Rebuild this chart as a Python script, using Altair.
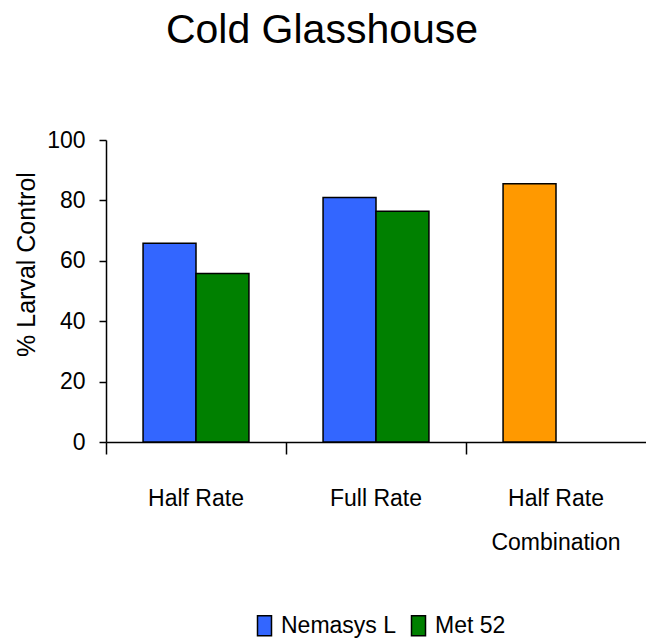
import altair as alt
import pandas as pd

# Treatment groups, series and % larval control
groups = ["Half Rate", "Half Rate", "Full Rate", "Full Rate", "Half Rate\nCombination"]
series = ["Nemasys L", "Met 52", "Nemasys L", "Met 52", "Combination"]
values = [65.8, 55.8, 81.0, 76.4, 85.5]

category_order = ["Half Rate", "Full Rate", "Half Rate\nCombination"]
legend_series = ["Nemasys L", "Met 52"]
series_domain = ["Nemasys L", "Met 52", "Combination"]
series_colors = ["#3366FF", "#008000", "#FF9900"]
y_ticks = [0, 20, 40, 60, 80, 100]

df = pd.DataFrame({"group": groups, "series": series, "value": values})
# the combination bar sits in the first slot of its group
df["slot"] = df["series"].where(df["series"] != "Combination", "Nemasys L")

FONT = "Liberation Sans, Arial, sans-serif"
LABEL_SIZE = 23

bars = alt.Chart(df).mark_bar(stroke="black", strokeWidth=1.5).encode(
    x=alt.X(
        "group:N",
        sort=category_order,
        scale=alt.Scale(domain=category_order, paddingInner=0, paddingOuter=0),
        axis=alt.Axis(
            title=None,
            labelAngle=0,
            labelFont=FONT,
            labelFontSize=LABEL_SIZE,
            labelColor="black",
            labelPadding=33,
            labelLineHeight=44,
            labelBaseline="top",
            labelExpr="split(datum.label, '\\n')",
            tickSize=12,
            tickColor="black",
            tickWidth=1.5,
            bandPosition=0,
            tickExtra=False,
            domainColor="black",
            domainWidth=1.5,
        ),
    ),
    xOffset=alt.XOffset(
        "slot:N",
        scale=alt.Scale(domain=legend_series, paddingInner=0, paddingOuter=0.7),
    ),
    y=alt.Y(
        "value:Q",
        scale=alt.Scale(domain=[0, 100], nice=False),
        axis=alt.Axis(
            title="% Larval Control",
            titleFont=FONT,
            titleFontSize=25,
            titleFontWeight="normal",
            titleColor="black",
            titleAngle=-90,
            titleAlign="center",
            titleBaseline="alphabetic",
            titleX=-72,
            titleY=124,
            values=y_ticks,
            labelFont=FONT,
            labelFontSize=LABEL_SIZE,
            labelColor="black",
            labelPadding=14,
            tickSize=7,
            tickColor="black",
            tickWidth=1.5,
            domainColor="black",
            domainWidth=1.5,
            grid=False,
        ),
    ),
    color=alt.Color(
        "series:N",
        scale=alt.Scale(domain=series_domain, range=series_colors),
        legend=alt.Legend(
            values=legend_series,
            title=None,
            orient="none",
            direction="horizontal",
            legendX=147,
            legendY=474,
            symbolType="M-0.7,-1H0.7V1H-0.7Z",
            symbolSize=400,
            symbolStrokeColor="black",
            symbolStrokeWidth=1.5,
            symbolOpacity=1,
            labelFont=FONT,
            labelFontSize=LABEL_SIZE,
            labelColor="black",
            labelOffset=5,
            columnPadding=10,
            padding=0,
        ),
    ),
)

chart = bars.properties(
    width=540,
    height=302,
    title=alt.TitleParams(
        "Cold Glasshouse",
        font=FONT,
        fontSize=41,
        fontWeight="normal",
        color="black",
        anchor="middle",
        dx=-54,
        offset=77,
    ),
    padding={"left": 106, "top": 140, "right": 0, "bottom": 200},
    autosize=alt.AutoSizeParams(type="none"),
).configure_view(stroke=None)

chart.save("out.html", embed_options={"renderer": "svg", "actions": False})
